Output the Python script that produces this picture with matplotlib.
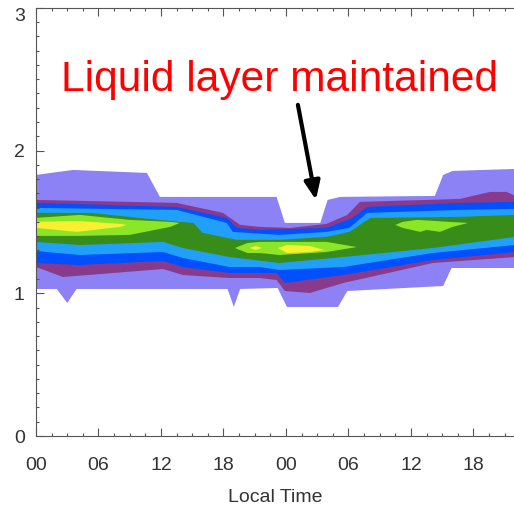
import numpy as np
import matplotlib
matplotlib.use("Agg")
import matplotlib.pyplot as plt
from matplotlib.ticker import MultipleLocator

plt.rcParams["font.family"] = ["Liberation Sans", "DejaVu Sans"]

# contour band edges: (local time in hours, height)
lav_top_t = [0, 3.55, 10.65, 11.9, 23.1, 23.9, 27.3, 28.0, 29.2, 38.3, 39.1, 40.0, 46]
lav_top_h = [1.829, 1.864, 1.843, 1.675, 1.675, 1.493, 1.493, 1.654, 1.675, 1.682, 1.829, 1.857, 1.871]
lav_bot_t = [0, 2.0, 3.0, 3.9, 18.4, 19.0, 19.6, 23.2, 24.1, 29.0, 29.9, 39.1, 39.9, 46]
lav_bot_h = [1.030, 1.030, 0.932, 1.030, 1.030, 0.904, 1.030, 1.037, 0.904, 0.904, 1.016, 1.051, 1.177, 1.177]

pur_top_t = [0, 13.5, 17.95, 19.6, 21.5, 24.4, 27.9, 29.9, 31.1, 40.7, 43.6, 45.2, 46]
pur_top_h = [1.654, 1.633, 1.563, 1.479, 1.465, 1.458, 1.486, 1.549, 1.640, 1.661, 1.710, 1.710, 1.682]
pur_bot_t = [0, 2.6, 12.2, 14.1, 18.6, 21.5, 23.1, 23.9, 26.3, 29.5, 38.1, 46]
pur_bot_h = [1.184, 1.114, 1.170, 1.128, 1.107, 1.107, 1.093, 1.016, 1.002, 1.072, 1.212, 1.254]

blu_top_t = [0, 13.5, 18.3, 19.3, 21.5, 27.9, 30.4, 31.8, 40.7, 46]
blu_top_h = [1.633, 1.605, 1.528, 1.458, 1.444, 1.458, 1.528, 1.605, 1.633, 1.640]
blu_bot_t = [0, 4.2, 12.2, 14.1, 18.6, 23.1, 23.9, 29.5, 38.1, 46]
blu_bot_h = [1.212, 1.198, 1.226, 1.184, 1.142, 1.142, 1.072, 1.128, 1.233, 1.289]

lb_top_t = [0, 13.5, 18.3, 18.9, 23.4, 27.9, 30.1, 31.8, 40.7, 46]
lb_top_h = [1.598, 1.584, 1.493, 1.430, 1.409, 1.430, 1.458, 1.563, 1.584, 1.591]
lb_bot_t = [0, 4.2, 12.2, 14.1, 18.6, 21.5, 23.4, 29.5, 38.1, 46]
lb_bot_h = [1.296, 1.268, 1.289, 1.247, 1.184, 1.184, 1.163, 1.184, 1.282, 1.338]

dg_top_t = [0, 5.2, 13.8, 15.1, 16.0, 19.3, 23.4, 27.9, 30.1, 32.1, 40.7, 46]
dg_top_h = [1.563, 1.563, 1.500, 1.493, 1.423, 1.374, 1.374, 1.395, 1.430, 1.528, 1.535, 1.549]
dg_bot_t = [0, 4.2, 12.2, 14.1, 18.6, 23.4, 29.5, 38.1, 46]
dg_bot_h = [1.360, 1.338, 1.360, 1.317, 1.254, 1.212, 1.254, 1.317, 1.395]

# inner maxima drawn as closed outlines
lg1_t = [0, 4.2, 9.0, 12.9, 13.8, 12.9, 9.0, 4.2, 0]
lg1_h = [1.528, 1.549, 1.514, 1.500, 1.493, 1.465, 1.409, 1.402, 1.402]
lg2_t = [19.1, 20.3, 21.5, 23.4, 27.9, 30.8, 27.9, 23.4, 21.5, 20.3]
lg2_h = [1.317, 1.352, 1.360, 1.360, 1.360, 1.324, 1.289, 1.268, 1.282, 1.282]
lg3_t = [34.5, 35.2, 36.6, 39.7, 41.5, 40.0, 38.8, 37.5, 36.9, 35.2]
lg3_h = [1.479, 1.500, 1.514, 1.500, 1.493, 1.465, 1.430, 1.444, 1.430, 1.458]

ye1_t = [0, 3.9, 8.1, 8.7, 8.1, 3.9, 0]
ye1_h = [1.500, 1.507, 1.486, 1.479, 1.465, 1.430, 1.458]
ye2_t = [20.5, 21.1, 21.7, 21.1]
ye2_h = [1.317, 1.331, 1.317, 1.303]
ye3_t = [23.2, 24.1, 26.3, 27.7, 26.3, 24.1]
ye3_h = [1.317, 1.338, 1.331, 1.303, 1.289, 1.282]

tick_pos = [0, 6, 12, 18, 24, 30, 36, 42]
tick_lab = ["00", "06", "12", "18", "00", "06", "12", "18"]

c_lav = "#8c82f5"
c_pur = "#883a8c"
c_blu = "#0050ff"
c_lb = "#20a0f8"
c_dg = "#388c19"
c_lg = "#8ce628"
c_ye = "#f8f030"


def band(ax, t_top, h_top, t_bot, h_bot, color):
    xs = np.concatenate([t_top, t_bot[::-1]])
    ys = np.concatenate([h_top, h_bot[::-1]])
    ax.fill(xs, ys, color=color, lw=0)


fig = plt.figure(figsize=(5.14, 5.08), dpi=100)
ax = fig.add_axes([0.070, 0.1417, 0.930, 0.843])

band(ax, lav_top_t, lav_top_h, lav_bot_t, lav_bot_h, c_lav)
band(ax, pur_top_t, pur_top_h, pur_bot_t, pur_bot_h, c_pur)
band(ax, blu_top_t, blu_top_h, blu_bot_t, blu_bot_h, c_blu)
band(ax, lb_top_t, lb_top_h, lb_bot_t, lb_bot_h, c_lb)
band(ax, dg_top_t, dg_top_h, dg_bot_t, dg_bot_h, c_dg)
for t, h in [(lg1_t, lg1_h), (lg2_t, lg2_h), (lg3_t, lg3_h)]:
    ax.fill(t, h, color=c_lg, lw=0)
for t, h in [(ye1_t, ye1_h), (ye2_t, ye2_h), (ye3_t, ye3_h)]:
    ax.fill(t, h, color=c_ye, lw=0)

ax.set_xlim(0, 45.9)
ax.set_ylim(0, 3)
ax.set_xticks(tick_pos)
ax.set_xticklabels(tick_lab)
ax.xaxis.set_minor_locator(MultipleLocator(1.5))
ax.set_yticks([0, 1, 2, 3])
ax.yaxis.set_minor_locator(MultipleLocator(0.1))
ax.tick_params(which="both", direction="in", top=True, right=False,
               color="#555555", width=0.8, labelcolor="#333333", labelsize=14)
ax.tick_params(which="major", length=6)
ax.tick_params(which="minor", length=2.5)
ax.tick_params(axis="x", pad=15)
ax.tick_params(axis="y", pad=8)
ax.get_yticklabels()[-1].set_va("top")
for s in ["left", "bottom", "top"]:
    ax.spines[s].set_color("#555555")
    ax.spines[s].set_linewidth(0.8)
ax.spines["right"].set_visible(False)
ax.set_xlabel("Local Time", fontsize=14, color="#333333", labelpad=11)

ax.text(23.4, 2.418, "Liquid layer maintained", color="red", fontsize=30.6,
        ha="center", va="baseline")
ax.annotate("", xy=(26.88, 1.654), xytext=(25.15, 2.32),
            arrowprops=dict(arrowstyle="-|>,head_length=1.1,head_width=0.47",
                            lw=3, color="black", shrinkA=0, shrinkB=0))

fig.savefig("out.png", dpi=100)
